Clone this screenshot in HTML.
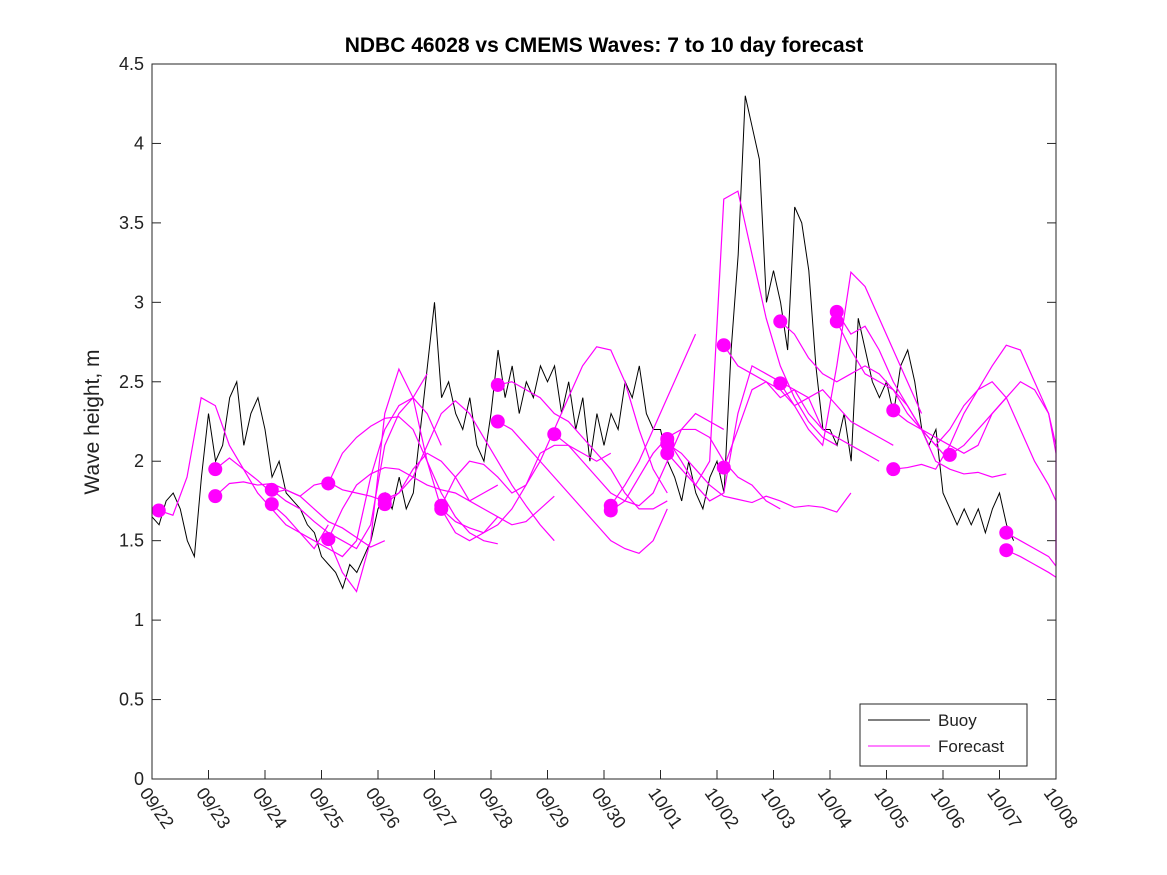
<!DOCTYPE html>
<html><head><meta charset="utf-8"><style>
body{margin:0;background:#fff}
svg{display:block;font-family:"Liberation Sans",sans-serif}
</style></head><body>
<svg id="chart" width="1167" height="875" viewBox="0 0 1167 875" xmlns="http://www.w3.org/2000/svg">
<rect x="0" y="0" width="1167" height="875" fill="#fff"/>
<text x="604" y="52" text-anchor="middle" font-size="21" font-weight="bold" fill="#000">NDBC 46028 vs CMEMS Waves: 7 to 10 day forecast</text>
<text transform="translate(99,422) rotate(-90)" text-anchor="middle" font-size="21" fill="#222">Wave height, m</text>
<g id="axes"></g>
<g id="series"></g>
<rect x="152" y="64" width="904" height="715" fill="none" stroke="#262626" stroke-width="1"/>
<g>
<rect x="860" y="704" width="167" height="62" fill="#fff" stroke="#262626"/>
<line x1="868" y1="720" x2="930" y2="720" stroke="#000"/>
<text x="938" y="726" font-size="17" fill="#222">Buoy</text>
<line x1="868" y1="746" x2="930" y2="746" stroke="#ff00ff"/>
<text x="938" y="752" font-size="17" fill="#222">Forecast</text>
</g>
</svg>
<script>
const xTickLabels=["09/22","09/23","09/24","09/25","09/26","09/27","09/28","09/29","09/30","10/01","10/02","10/03","10/04","10/05","10/06","10/07","10/08"];
const yTicks=[0,0.5,1,1.5,2,2.5,3,3.5,4,4.5];
const yTickLabels=["0","0.5","1","1.5","2","2.5","3","3.5","4","4.5"];
// buoy wave height, 3-hourly from 09/22 00:00 (one row per day)
const buoyStep=0.125;
const buoy=[
1.65,1.6,1.75,1.8,1.7,1.5,1.4,1.9,
2.3,2.0,2.1,2.4,2.5,2.1,2.3,2.4,
2.2,1.9,2.0,1.8,1.75,1.7,1.6,1.55,
1.4,1.35,1.3,1.2,1.35,1.3,1.4,1.5,
1.7,1.8,1.7,1.9,1.7,1.8,2.2,2.6,
3.0,2.4,2.5,2.3,2.2,2.4,2.1,2.0,
2.3,2.7,2.4,2.6,2.3,2.5,2.4,2.6,
2.5,2.6,2.3,2.5,2.2,2.4,2.0,2.3,
2.1,2.3,2.2,2.5,2.4,2.6,2.3,2.2,
2.2,2.0,1.9,1.75,2.0,1.8,1.7,1.9,
2.0,1.8,2.7,3.3,4.3,4.1,3.9,3.0,
3.2,3.0,2.7,3.6,3.5,3.2,2.6,2.2,
2.2,2.1,2.3,2.0,2.9,2.7,2.5,2.4,
2.5,2.3,2.6,2.7,2.5,2.2,2.1,2.2,
1.8,1.7,1.6,1.7,1.6,1.7,1.55,1.7,
1.8,1.6,1.5];
// forecasts: start day, 6-hourly values
const fcStart=[0.12,1.12,1.12,2.12,2.12,3.12,3.12,3.12,4.12,4.12,5.12,5.12,6.12,6.12,7.12,8.12,8.12,9.12,9.12,9.12,10.12,10.12,11.12,11.12,12.12,12.12,13.12,13.12,14.12,15.12,15.12];
const fcValues=[
[1.69,1.66,1.9,2.4,2.35,2.1,1.95,1.8,1.7,1.6,1.55,1.45,1.6],
[1.95,2.02,1.95,1.88,1.8,1.82,1.78,1.7,1.62,1.58,1.52,1.46,1.5],
[1.78,1.86,1.87,1.85,1.86,1.82,1.78,1.85,1.87,1.82,1.8,1.78,1.75],
[1.82,1.75,1.7,1.62,1.55,1.5,1.45,1.6,2.1,2.3,2.4,2.55],
[1.73,1.65,1.55,1.5,1.45,1.4,1.5,1.9,2.2,2.35,2.4,2.3,2.1],
[1.86,2.05,2.15,2.22,2.27,2.28,2.2,2.0,1.8,1.65,1.55,1.5,1.48],
[1.51,1.7,1.85,1.92,1.96,1.95,1.9,1.85,1.82,1.8,1.75,1.8,1.85],
[1.51,1.3,1.18,1.5,2.3,2.58,2.4,2.0,1.7,1.55,1.5,1.55,1.65],
[1.73,1.8,1.95,2.05,2.0,1.9,1.75,1.7,1.65,1.6,1.62,1.7,1.78],
[1.76,1.8,1.9,2.1,2.3,2.38,2.3,2.15,2.0,1.85,1.72,1.6,1.5],
[1.72,1.9,2.0,1.98,1.9,1.8,1.85,2.05,2.1,2.1,2.05,2.0,2.05],
[1.70,1.62,1.58,1.55,1.6,1.7,1.85,2.0,2.2,2.4,2.6,2.72,2.7,2.5,2.2,1.95,1.8],
[2.48,2.5,2.45,2.4,2.3,2.25,2.15,2.05,1.95,1.8,1.7,1.7,1.75],
[2.25,2.2,2.1,2.0,1.9,1.8,1.7,1.6,1.5,1.45,1.42,1.5,1.7],
[2.17,2.1,2.0,1.9,1.8,1.75,1.72,1.8,2.0,2.2,2.3,2.25,2.2],
[1.69,1.75,1.9,2.05,2.15,2.2,2.2,2.15,2.0,1.9,1.85,1.75,1.7],
[1.72,1.85,2.0,2.2,2.4,2.6,2.8],
[2.14,2.0,1.85,2.0,3.65,3.7,3.3,2.9,2.6,2.4,2.25,2.15,2.1],
[2.11,2.05,1.95,1.85,1.78,1.76,1.74,1.78,1.75,1.71,1.72,1.71,1.68,1.8],
[2.05,1.95,1.85,1.75,1.8,2.3,2.6,2.55,2.5,2.45,2.4,2.2,2.15],
[2.73,2.6,2.55,2.5,2.4,2.45,2.3,2.2,2.15,2.1,2.05,2.0],
[1.96,2.2,2.45,2.5,2.45,2.35,2.4,2.45,2.35,2.25,2.2,2.15,2.1],
[2.88,2.8,2.65,2.55,2.5,2.55,2.6,2.55,2.45,2.3,2.2,2.1,2.0],
[2.49,2.35,2.2,2.1,2.6,3.19,3.1,2.9,2.7,2.5,2.3],
[2.94,2.8,2.85,2.7,2.5,2.35,2.2,2.0,1.95,1.92,1.93,1.9,1.92],
[2.88,2.7,2.55,2.5,2.45,2.35,2.2,2.15,2.1,2.05,2.1,2.3,2.4],
[2.32,2.25,2.2,2.1,2.2,2.35,2.45,2.6,2.73,2.7,2.5,2.3,2.05],
[1.95,1.96,1.98,1.95,2.1,2.3,2.45,2.5,2.4,2.2,2.0,1.85,1.75,1.6,1.45,1.35],
[2.04,2.1,2.2,2.3,2.4,2.5,2.45,2.3,2.1,1.95,1.8,1.65,1.5,1.38],
[1.55,1.5,1.45,1.4,1.34],
[1.44,1.4,1.35,1.3,1.27]];
const fcStep=0.25;
const X0=152,X1=1056,Y0=779,Y1=64,DAYS=16,YMAX=4.5;
const xs=d=>X0+(X1-X0)*d/DAYS;
const ys=v=>Y0-(Y0-Y1)*v/YMAX;
const NS="http://www.w3.org/2000/svg";
const axes=document.getElementById('axes'),series=document.getElementById('series');
function mk(tag,parent,attrs){const e=document.createElementNS(NS,tag);for(const k in attrs)e.setAttribute(k,attrs[k]);parent.appendChild(e);return e;}
yTicks.forEach((v,i)=>{
 const y=ys(v);
 const t=mk('line',axes,{x1:X0,x2:X0+9,y1:y,y2:y,stroke:'#262626'});
 
 
 const t2=mk('line',axes,{x1:X1-9,x2:X1,y1:y,y2:y,stroke:'#262626'});
 
 
 const l=mk('text',axes,{x:X0-8,y:y+6,'text-anchor':'end','font-size':18,fill:'#222'});
 l.textContent=yTickLabels[i];
 
 
});
xTickLabels.forEach((s,i)=>{
 const x=xs(i);
 const t=mk('line',axes,{x1:x,x2:x,y1:Y0,y2:Y0-9,stroke:'#262626'});
 
 
 const l=mk('text',axes,{transform:`translate(${x-13},${Y0+14}) rotate(55)`,'font-size':18,fill:'#222'});
 l.textContent=s;
 
 
});
const bp=mk('polyline',series,{points:buoy.map((v,i)=>xs(i*buoyStep)+','+ys(v)).join(' '),fill:'none',stroke:'#000','stroke-width':1});


fcValues.forEach((arr,k)=>{
 const pts=arr.map((v,i)=>[xs(Math.min(fcStart[k]+i*fcStep,DAYS)),ys(v)]);
 const p=mk('polyline',series,{points:pts.map(q=>q.join(',')).join(' '),fill:'none',stroke:'#ff00ff','stroke-width':1.2});
 
 
});
fcValues.forEach((arr,k)=>{
 const c=mk('circle',series,{cx:xs(fcStart[k]),cy:ys(arr[0]),r:7,fill:'#ff00ff'});
 
 
});
</script>
</body></html>
